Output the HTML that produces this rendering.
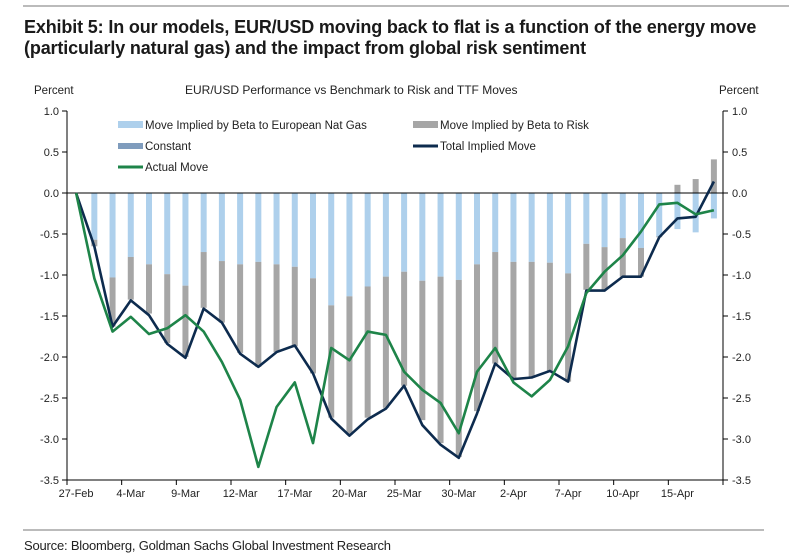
<!DOCTYPE html>
<html><head><meta charset="utf-8">
<style>
body{margin:0;background:#fff;width:789px;height:558px;overflow:hidden;font-family:"Liberation Sans",sans-serif;}
svg{position:absolute;left:0;top:0}
text{font-family:"Liberation Sans",sans-serif}
</style></head>
<body>
<svg id="c" width="789" height="558">
<line x1="23" y1="6" x2="789" y2="6" stroke="#777" stroke-width="1"/>
<text x="24" y="33" font-size="18" font-weight="bold" fill="#1a1a1a" letter-spacing="-0.15">Exhibit 5: In our models, EUR/USD moving back to flat is a function of the energy move</text>
<text x="24" y="54" font-size="18" font-weight="bold" fill="#1a1a1a" letter-spacing="-0.15">(particularly natural gas) and the impact from global risk sentiment</text>
<text x="34" y="94" font-size="11.5" fill="#222">Percent</text>
<text x="719" y="94" font-size="11.5" fill="#222">Percent</text>
<text x="185" y="94" font-size="12" fill="#222">EUR/USD Performance vs Benchmark to Risk and TTF Moves</text>
<g>
<rect x="118" y="121" width="25" height="7" fill="#aed0ec"/>
<text x="145" y="129" font-size="11.5" fill="#222">Move Implied by Beta to European Nat Gas</text>
<rect x="118" y="143" width="25" height="6" fill="#7f9cbd"/>
<text x="145" y="150" font-size="11.5" fill="#222">Constant</text>
<line x1="118" y1="167" x2="143" y2="167" stroke="#1e8449" stroke-width="3"/>
<text x="145" y="171" font-size="11.5" fill="#222">Actual Move</text>
<rect x="413" y="121" width="25" height="7" fill="#a6a6a6"/>
<text x="440" y="129" font-size="11.5" fill="#222">Move Implied by Beta to Risk</text>
<line x1="413" y1="146" x2="438" y2="146" stroke="#0d2b4e" stroke-width="3"/>
<text x="440" y="150" font-size="11.5" fill="#222">Total Implied Move</text>
</g>
<g id="plot"></g>
<line x1="23" y1="530" x2="764" y2="530" stroke="#777" stroke-width="1"/>
<text x="24" y="550" font-size="13" fill="#222" letter-spacing="-0.2">Source: Bloomberg, Goldman Sachs Global Investment Research</text>
</svg>
<script>
const categories=["27-Feb","28-Feb","1-Mar","4-Mar","5-Mar","6-Mar","9-Mar","10-Mar","11-Mar","12-Mar","13-Mar","16-Mar","17-Mar","18-Mar","19-Mar","20-Mar","23-Mar","24-Mar","25-Mar","26-Mar","27-Mar","30-Mar","31-Mar","1-Apr","2-Apr","3-Apr","6-Apr","7-Apr","8-Apr","9-Apr","10-Apr","13-Apr","14-Apr","15-Apr","16-Apr","17-Apr"];
const tickLabels=["27-Feb","4-Mar","9-Mar","12-Mar","17-Mar","20-Mar","25-Mar","30-Mar","2-Apr","7-Apr","10-Apr","15-Apr"];
const natGas=[0,-0.57,-1.03,-0.78,-0.87,-0.99,-1.13,-0.72,-0.83,-0.87,-0.84,-0.87,-0.90,-1.04,-1.37,-1.26,-1.14,-1.02,-0.96,-1.07,-1.02,-1.06,-0.87,-0.72,-0.84,-0.84,-0.85,-0.98,-0.62,-0.66,-0.55,-0.67,-0.53,-0.44,-0.48,-0.31];
const risk=[0,-0.08,-0.60,-0.52,-0.60,-0.84,-0.87,-0.68,-0.75,-1.08,-1.28,-1.07,-0.97,-1.16,-1.37,-1.69,-1.60,-1.60,-1.39,-1.70,-2.03,-2.16,-1.79,-1.36,-1.44,-1.41,-1.33,-1.32,-0.56,-0.52,-0.47,-0.35,-0.01,0.10,0.17,0.41];
const totalImplied=[0,-0.65,-1.63,-1.31,-1.49,-1.84,-2.01,-1.41,-1.58,-1.96,-2.12,-1.94,-1.86,-2.20,-2.75,-2.96,-2.76,-2.63,-2.35,-2.83,-3.07,-3.23,-2.69,-2.08,-2.27,-2.25,-2.17,-2.30,-1.19,-1.19,-1.02,-1.02,-0.54,-0.31,-0.29,0.14];
const actual=[0,-1.04,-1.69,-1.51,-1.72,-1.65,-1.49,-1.69,-2.06,-2.52,-3.34,-2.61,-2.31,-3.05,-1.89,-2.04,-1.69,-1.73,-2.18,-2.40,-2.56,-2.93,-2.18,-1.89,-2.31,-2.48,-2.28,-1.87,-1.22,-0.96,-0.76,-0.47,-0.14,-0.12,-0.26,-0.21];
const yTicks=[1.0,0.5,0.0,-0.5,-1.0,-1.5,-2.0,-2.5,-3.0,-3.5];

const NS="http://www.w3.org/2000/svg";
const g=document.getElementById('plot');
const X0=67,X1=723,Y0=193,PU=82;
const step=(X1-X0)/categories.length;
function xs(i){return X0+step*(i+0.5);}
function ys(v){return Y0-v*PU;}
function el(t,a){const e=document.createElementNS(NS,t);for(const k in a)e.setAttribute(k,a[k]);g.appendChild(e);return e;}

yTicks.forEach(v=>{
  const y=ys(v);
  let e=el('line',{x1:62,x2:67,y1:y,y2:y,stroke:'#000'});
  
  
  e=el('line',{x1:X1,x2:X1+5,y1:y,y2:y,stroke:'#000'});
  
  
  const lbl=v.toFixed(1);
  let t=el('text',{x:59,y:y+4,'font-size':11,'text-anchor':'end',fill:'#222'});t.textContent=lbl;
  
  
  t=el('text',{x:732,y:y+4,'font-size':11,fill:'#222'});t.textContent=lbl;
  
  
});
categories.forEach((c,i)=>{
  const bw=6;
  let negBase=0,posBase=0;
  [[natGas[i],'#aed0ec','bar-natgas'],[risk[i],'#a6a6a6','bar-risk']].forEach(([v,col,nm])=>{
    if(v===0)return;
    let y1,y2;
    if(v<0){y1=ys(negBase);y2=ys(negBase+v);negBase+=v;}
    else{y2=ys(posBase);y1=ys(posBase+v);posBase+=v;}
    const r=el('rect',{x:xs(i)-bw/2,y:Math.min(y1,y2),width:bw,height:Math.abs(y2-y1),fill:col});
    
    
  });
});
let a=el('line',{x1:X0,x2:X0,y1:ys(1),y2:ys(-3.5),stroke:'#000'});


a=el('line',{x1:X1,x2:X1,y1:ys(1),y2:ys(-3.5),stroke:'#000'});


a=el('line',{x1:X0,x2:X1,y1:ys(0),y2:ys(0),stroke:'#000'});


a=el('line',{x1:X0,x2:X1,y1:ys(-3.5),y2:ys(-3.5),stroke:'#000'});


for(let k=0;k<=categories.length;k+=3){
  const x=X0+step*k;
  const t=el('line',{x1:x,x2:x,y1:ys(-3.5),y2:ys(-3.5)+5,stroke:'#000'});
  
  
}
tickLabels.forEach((l,k)=>{
  const t=el('text',{x:xs(k*3),y:497,'font-size':11,'text-anchor':'middle',fill:'#222'});
  t.textContent=l;
  
  
});
function line(arr,col,nm){
  const p=el('polyline',{points:arr.map((v,i)=>xs(i)+','+ys(v)).join(' '),fill:'none',stroke:col,'stroke-width':2.6,'stroke-linejoin':'round'});
  
  
}
line(totalImplied,'#0d2b4e','total-implied-line');
line(actual,'#1e8449','actual-move-line');
</script>
</body></html>
